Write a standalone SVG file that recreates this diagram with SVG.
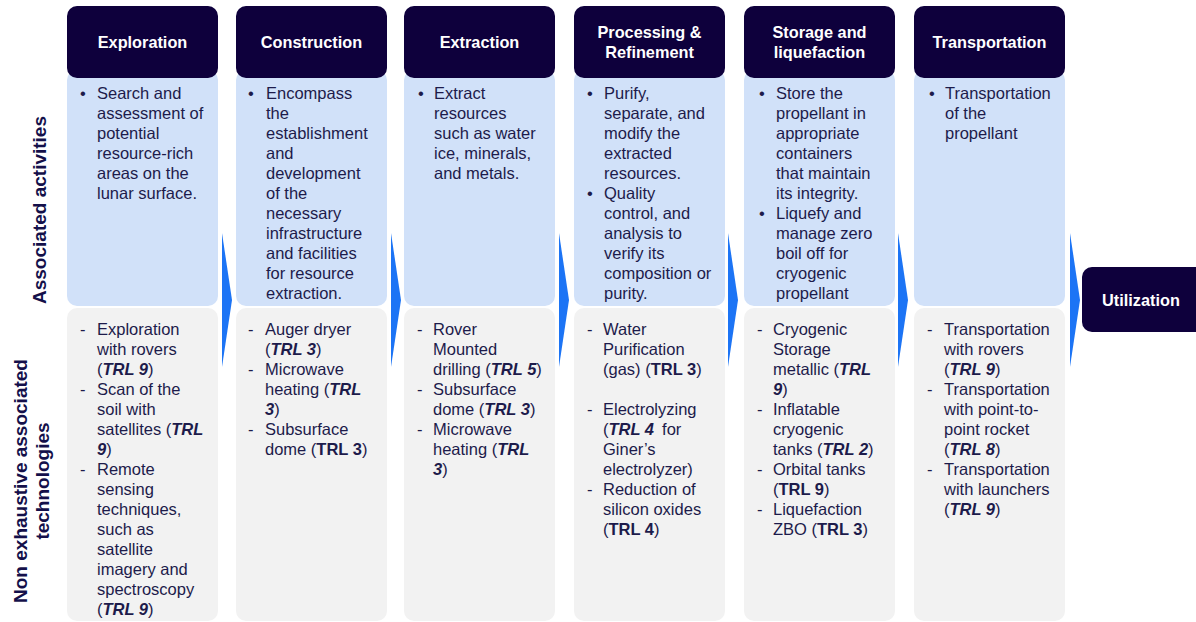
<svg xmlns="http://www.w3.org/2000/svg" width="1196" height="622" viewBox="0 0 1196 622">
<style>
.hdr{fill:#0e003c}
.act{fill:#d1e1f9}
.tec{fill:#f2f2f2}
.arr{fill:#1c74f5}
.ht{font-family:"Liberation Sans",Arial,sans-serif;font-weight:bold;font-size:16.3px;fill:#ffffff;text-anchor:middle}
.bt{font-family:"Liberation Sans",Arial,sans-serif;font-size:16.5px;fill:#1d1b4b}
.lab{font-family:"Liberation Sans",Arial,sans-serif;font-weight:bold;font-size:19px;fill:#14104a;text-anchor:middle}
.bi{font-weight:bold;font-style:italic}
.b{font-weight:bold}
</style>
<rect width="1196" height="622" fill="#ffffff"/>

<g id="row-labels">
<text class="lab" transform="translate(46,210) rotate(-90)">Associated activities</text>
<text class="lab" transform="translate(27,481) rotate(-90)">Non exhaustive associated</text>
<text class="lab" transform="translate(49,481) rotate(-90)">technologies</text>
</g>

<g id="connectors">
<polygon class="arr" points="222,233 232,300 222,367"/>
<polygon class="arr" points="391,233 401,300 391,367"/>
<polygon class="arr" points="559,233 569,300 559,367"/>
<polygon class="arr" points="728,233 738,300 728,367"/>
<polygon class="arr" points="898,233 908,300 898,367"/>
<polygon class="arr" points="1070,233 1080,300 1070,367"/>
</g>

<g id="exploration">
<rect class="act" x="67" y="70" width="151" height="236" rx="10"/>
<rect class="tec" x="67" y="308" width="151" height="313" rx="10"/>
<rect class="hdr" x="67" y="6" width="151" height="72" rx="10"/>
<text class="ht" x="142.5" y="48">Exploration</text>
<text class="bt"><tspan x="80" y="99">•</tspan></text>
<text class="bt"><tspan x="97" y="99">Search and</tspan><tspan x="97" y="119">assessment of</tspan><tspan x="97" y="139">potential</tspan><tspan x="97" y="159">resource-rich</tspan><tspan x="97" y="179">areas on the</tspan><tspan x="97" y="199">lunar surface.</tspan></text>
<text class="bt"><tspan x="80" y="335">-</tspan><tspan x="80" y="395">-</tspan><tspan x="80" y="475">-</tspan></text>
<text class="bt"><tspan x="97" y="335">Exploration</tspan><tspan x="97" y="355">with rovers</tspan><tspan x="97" y="375">(<tspan class="bi">TRL 9</tspan>)</tspan><tspan x="97" y="395">Scan of the</tspan><tspan x="97" y="415">soil with</tspan><tspan x="97" y="435">satellites (<tspan class="bi">TRL</tspan></tspan><tspan x="97" y="455"><tspan class="bi">9</tspan>)</tspan><tspan x="97" y="475">Remote</tspan><tspan x="97" y="495">sensing</tspan><tspan x="97" y="515">techniques,</tspan><tspan x="97" y="535">such as</tspan><tspan x="97" y="555">satellite</tspan><tspan x="97" y="575">imagery and</tspan><tspan x="97" y="595">spectroscopy</tspan><tspan x="97" y="615">(<tspan class="bi">TRL 9</tspan>)</tspan></text>
</g>

<g id="construction">
<rect class="act" x="236" y="70" width="151" height="236" rx="10"/>
<rect class="tec" x="236" y="308" width="151" height="313" rx="10"/>
<rect class="hdr" x="236" y="6" width="151" height="72" rx="10"/>
<text class="ht" x="311.5" y="48">Construction</text>
<text class="bt"><tspan x="248" y="99">•</tspan></text>
<text class="bt"><tspan x="266" y="99">Encompass</tspan><tspan x="266" y="119">the</tspan><tspan x="266" y="139">establishment</tspan><tspan x="266" y="159">and</tspan><tspan x="266" y="179">development</tspan><tspan x="266" y="199">of the</tspan><tspan x="266" y="219">necessary</tspan><tspan x="266" y="239">infrastructure</tspan><tspan x="266" y="259">and facilities</tspan><tspan x="266" y="279">for resource</tspan><tspan x="266" y="299">extraction.</tspan></text>
<text class="bt"><tspan x="248" y="335">-</tspan><tspan x="248" y="375">-</tspan><tspan x="248" y="435">-</tspan></text>
<text class="bt"><tspan x="265" y="335">Auger dryer</tspan><tspan x="265" y="355">(<tspan class="bi">TRL 3</tspan>)</tspan><tspan x="265" y="375">Microwave</tspan><tspan x="265" y="395">heating (<tspan class="bi">TRL</tspan></tspan><tspan x="265" y="415"><tspan class="bi">3</tspan>)</tspan><tspan x="265" y="435">Subsurface</tspan><tspan x="265" y="455">dome (<tspan class="b">TRL 3</tspan>)</tspan></text>
</g>

<g id="extraction">
<rect class="act" x="404" y="70" width="151" height="236" rx="10"/>
<rect class="tec" x="404" y="308" width="151" height="313" rx="10"/>
<rect class="hdr" x="404" y="6" width="151" height="72" rx="10"/>
<text class="ht" x="479.5" y="48">Extraction</text>
<text class="bt"><tspan x="418" y="99">•</tspan></text>
<text class="bt"><tspan x="434" y="99">Extract</tspan><tspan x="434" y="119">resources</tspan><tspan x="434" y="139">such as water</tspan><tspan x="434" y="159">ice, minerals,</tspan><tspan x="434" y="179">and metals.</tspan></text>
<text class="bt"><tspan x="417" y="335">-</tspan><tspan x="417" y="395">-</tspan><tspan x="417" y="435">-</tspan></text>
<text class="bt"><tspan x="433" y="335">Rover</tspan><tspan x="433" y="355">Mounted</tspan><tspan x="433" y="375">drilling (<tspan class="bi">TRL 5</tspan>)</tspan><tspan x="433" y="395">Subsurface</tspan><tspan x="433" y="415">dome (<tspan class="bi">TRL 3</tspan>)</tspan><tspan x="433" y="435">Microwave</tspan><tspan x="433" y="455">heating (<tspan class="bi">TRL</tspan></tspan><tspan x="433" y="475"><tspan class="bi">3</tspan>)</tspan></text>
</g>

<g id="processing">
<rect class="act" x="574" y="70" width="151" height="236" rx="10"/>
<rect class="tec" x="574" y="308" width="151" height="313" rx="10"/>
<rect class="hdr" x="574" y="6" width="151" height="72" rx="10"/>
<text class="ht"><tspan x="649.5" y="38">Processing &amp;</tspan><tspan x="649.5" y="58">Refinement</tspan></text>
<text class="bt"><tspan x="587" y="99">•</tspan><tspan x="587" y="199">•</tspan></text>
<text class="bt"><tspan x="604" y="99">Purify,</tspan><tspan x="604" y="119">separate, and</tspan><tspan x="604" y="139">modify the</tspan><tspan x="604" y="159">extracted</tspan><tspan x="604" y="179">resources.</tspan><tspan x="604" y="199">Quality</tspan><tspan x="604" y="219">control, and</tspan><tspan x="604" y="239">analysis to</tspan><tspan x="604" y="259">verify its</tspan><tspan x="604" y="279">composition or</tspan><tspan x="604" y="299">purity.</tspan></text>
<text class="bt"><tspan x="587" y="335">-</tspan><tspan x="587" y="415">-</tspan><tspan x="587" y="495">-</tspan></text>
<text class="bt"><tspan x="603" y="335">Water</tspan><tspan x="603" y="355">Purification</tspan><tspan x="603" y="375">(gas) (<tspan class="b">TRL 3</tspan>)</tspan><tspan x="603" y="415">Electrolyzing</tspan><tspan x="603" y="435">(<tspan class="bi">TRL 4</tspan><tspan dx="8">for</tspan></tspan><tspan x="603" y="455">Giner’s</tspan><tspan x="603" y="475">electrolyzer)</tspan><tspan x="603" y="495">Reduction of</tspan><tspan x="603" y="515">silicon oxides</tspan><tspan x="603" y="535">(<tspan class="b">TRL 4</tspan>)</tspan></text>
</g>

<g id="storage">
<rect class="act" x="744" y="70" width="151" height="236" rx="10"/>
<rect class="tec" x="744" y="308" width="151" height="313" rx="10"/>
<rect class="hdr" x="744" y="6" width="151" height="72" rx="10"/>
<text class="ht"><tspan x="819.5" y="38">Storage and</tspan><tspan x="819.5" y="58">liquefaction</tspan></text>
<text class="bt"><tspan x="759" y="99">•</tspan><tspan x="759" y="219">•</tspan></text>
<text class="bt"><tspan x="776" y="99">Store the</tspan><tspan x="776" y="119">propellant in</tspan><tspan x="776" y="139">appropriate</tspan><tspan x="776" y="159">containers</tspan><tspan x="776" y="179">that maintain</tspan><tspan x="776" y="199">its integrity.</tspan><tspan x="776" y="219">Liquefy and</tspan><tspan x="776" y="239">manage zero</tspan><tspan x="776" y="259">boil off for</tspan><tspan x="776" y="279">cryogenic</tspan><tspan x="776" y="299">propellant</tspan></text>
<text class="bt"><tspan x="757" y="335">-</tspan><tspan x="757" y="415">-</tspan><tspan x="757" y="475">-</tspan><tspan x="757" y="515">-</tspan></text>
<text class="bt"><tspan x="773" y="335">Cryogenic</tspan><tspan x="773" y="355">Storage</tspan><tspan x="773" y="375">metallic (<tspan class="bi">TRL</tspan></tspan><tspan x="773" y="395"><tspan class="bi">9</tspan>)</tspan><tspan x="773" y="415">Inflatable</tspan><tspan x="773" y="435">cryogenic</tspan><tspan x="773" y="455">tanks (<tspan class="bi">TRL 2</tspan>)</tspan><tspan x="773" y="475">Orbital tanks</tspan><tspan x="773" y="495">(<tspan class="b">TRL 9</tspan>)</tspan><tspan x="773" y="515">Liquefaction</tspan><tspan x="773" y="535">ZBO (<tspan class="b">TRL 3</tspan>)</tspan></text>
</g>

<g id="transportation">
<rect class="act" x="914" y="70" width="151" height="236" rx="10"/>
<rect class="tec" x="914" y="308" width="151" height="313" rx="10"/>
<rect class="hdr" x="914" y="6" width="151" height="72" rx="10"/>
<text class="ht" x="989.5" y="48">Transportation</text>
<text class="bt"><tspan x="929" y="99">•</tspan></text>
<text class="bt"><tspan x="945" y="99">Transportation</tspan><tspan x="945" y="119">of the</tspan><tspan x="945" y="139">propellant</tspan></text>
<text class="bt"><tspan x="927" y="335">-</tspan><tspan x="927" y="395">-</tspan><tspan x="927" y="475">-</tspan></text>
<text class="bt"><tspan x="944" y="335">Transportation</tspan><tspan x="944" y="355">with rovers</tspan><tspan x="944" y="375">(<tspan class="bi">TRL 9</tspan>)</tspan><tspan x="944" y="395">Transportation</tspan><tspan x="944" y="415">with point-to-</tspan><tspan x="944" y="435">point rocket</tspan><tspan x="944" y="455">(<tspan class="bi">TRL 8</tspan>)</tspan><tspan x="944" y="475">Transportation</tspan><tspan x="944" y="495">with launchers</tspan><tspan x="944" y="515">(<tspan class="bi">TRL 9</tspan>)</tspan></text>
</g>

<g id="utilization">
<rect class="hdr" x="1082" y="267" width="130" height="65" rx="10"/>
<text class="ht" x="1141" y="306">Utilization</text>
</g>
</svg>
